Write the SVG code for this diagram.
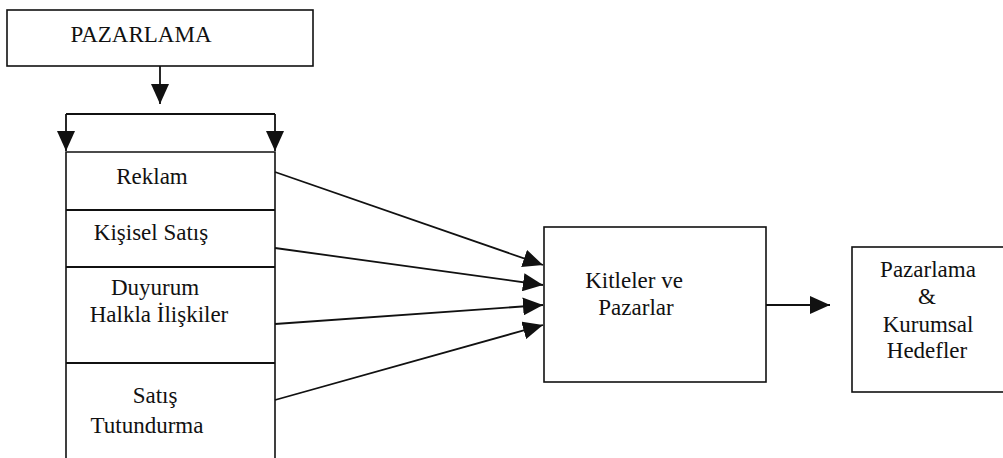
<svg xmlns="http://www.w3.org/2000/svg" width="1003" height="458" viewBox="0 0 1003 458">
  <style>
    .box { fill: #ffffff; stroke: #111111; stroke-width: 1.6; }
    .edge { fill: none; stroke: #111111; stroke-width: 1.8; }
    .lbl { font-size: 23px; fill: #111111; text-anchor: middle; }
  </style>
  <defs>
    <marker id="head" markerUnits="userSpaceOnUse" markerWidth="20" markerHeight="18" refX="20" refY="9" orient="auto">
      <path d="M0,0 L20,9 L0,18 Z" fill="#111111"/>
    </marker>
  </defs>
  <rect width="1003" height="458" fill="#ffffff"/>

  <g font-family="'Liberation Serif', 'DejaVu Serif', serif">
  <!-- top node -->
  <g id="pazarlama">
    <rect class="box" x="7" y="10" width="306" height="56"/>
    <text class="lbl" x="141" y="42">PAZARLAMA</text>
  </g>

  <!-- stacked promotion-mix column (open at the bottom) -->
  <g id="karma">
    <path class="box" d="M66,458 V152 H275 V458"/>
    <path class="edge" d="M66,210 H275 M66,267 H275 M66,363 H275"/>
    <g id="reklam"><text class="lbl" x="152" y="184">Reklam</text></g>
    <g id="kisisel-satis"><text class="lbl" x="151" y="240">Kişisel Satış</text></g>
    <g id="duyurum"><text class="lbl" x="155" y="295">Duyurum</text>
      <text class="lbl" x="159" y="322">Halkla İlişkiler</text></g>
    <g id="satis-tutundurma"><text class="lbl" x="155" y="403">Satış</text>
      <text class="lbl" x="147" y="433">Tutundurma</text></g>
  </g>

  <g id="kitleler">
    <rect class="box" x="544" y="227" width="222" height="155"/>
    <text class="lbl" x="634" y="288">Kitleler ve</text>
    <text class="lbl" x="636" y="315">Pazarlar</text>
  </g>

  <g id="hedefler">
    <rect class="box" x="852" y="247" width="160" height="145"/>
    <text class="lbl" x="928" y="277">Pazarlama</text>
    <text class="lbl" x="927" y="304">&amp;</text>
    <text class="lbl" x="928" y="332">Kurumsal</text>
    <text class="lbl" x="927" y="358">Hedefler</text>
  </g>
  </g>

  <!-- connectors -->
  <g id="connectors">
    <line class="edge" x1="160" y1="66" x2="160" y2="104" marker-end="url(#head)"/>
    <path class="edge" d="M66,114 H275"/>
    <line class="edge" x1="66" y1="114" x2="66" y2="151" marker-end="url(#head)"/>
    <line class="edge" x1="275" y1="114" x2="275" y2="151" marker-end="url(#head)"/>
    <line class="edge" x1="275" y1="172" x2="543" y2="265" marker-end="url(#head)"/>
    <line class="edge" x1="275" y1="248" x2="543" y2="285" marker-end="url(#head)"/>
    <line class="edge" x1="275" y1="324" x2="543" y2="305" marker-end="url(#head)"/>
    <line class="edge" x1="275" y1="400" x2="543" y2="325" marker-end="url(#head)"/>
    <line class="edge" x1="766" y1="305" x2="830" y2="305" marker-end="url(#head)"/>
  </g>
</svg>
